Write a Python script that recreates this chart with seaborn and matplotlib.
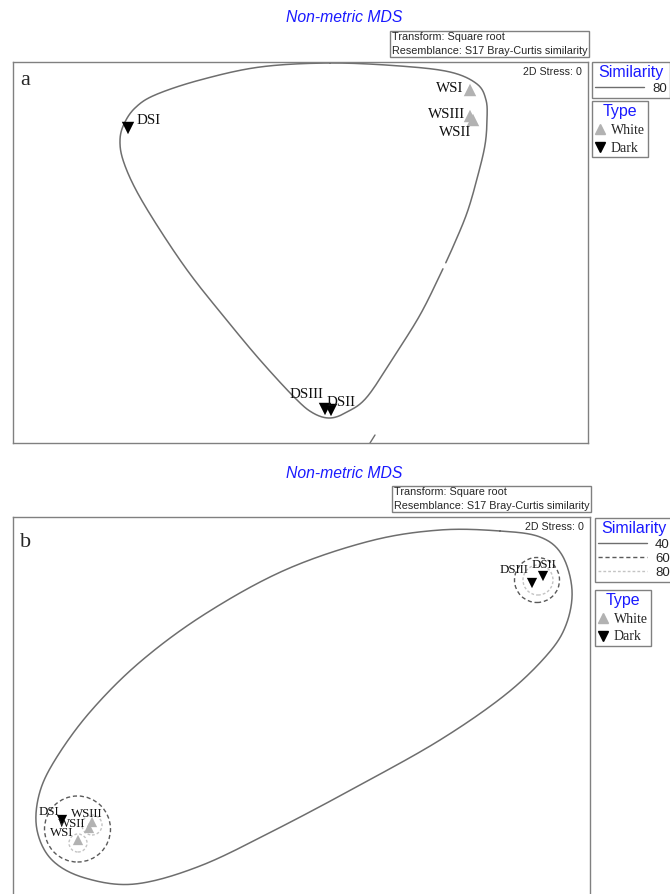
import numpy as np
import pandas as pd
import matplotlib
matplotlib.use("Agg")
import matplotlib.pyplot as plt
import seaborn as sns
from matplotlib.lines import Line2D
from matplotlib.patches import Circle

# ---- data: panel a (MDS scores, arbitrary units) ----
a_samples = ["DSI", "WSI", "WSIII", "WSII", "DSIII", "DSII"]
a_type = ["Dark", "White", "White", "White", "Dark", "Dark"]
a_x = [-0.86, 0.85, 0.85, 0.865, 0.125, 0.155]
a_y = [0.62, 0.81, 0.68, 0.66, -0.785, -0.79]

# 80% similarity contour, panel a
a_c80_x = [0.15, 0.50, 0.75, 0.885, 0.93, 0.935, 0.925, 0.89, 0.84, 0.78, 0.70, 0.60,
           0.475, 0.335, 0.235, 0.15, 0.065, -0.025, -0.20, -0.375, -0.55, -0.70,
           -0.82, -0.885, -0.90, -0.88, -0.825, -0.725, -0.50, -0.20]
a_c80_y = [0.945, 0.93, 0.90, 0.84, 0.76, 0.66, 0.535, 0.385, 0.21, 0.06, -0.115, -0.315,
           -0.515, -0.725, -0.80, -0.83, -0.805, -0.73, -0.54, -0.33, -0.11, 0.11,
           0.31, 0.46, 0.56, 0.64, 0.72, 0.785, 0.86, 0.925]
a_c80_gap = (0.735, -0.075)
a_frag_x = [0.35, 0.375]
a_frag_y = [-0.955, -0.915]

# ---- data: panel b ----
b_samples = ["DSII", "DSIII", "DSI", "WSIII", "WSII", "WSI"]
b_type = ["Dark", "Dark", "Dark", "White", "White", "White"]
b_x = [1.215, 1.16, -1.19, -1.04, -1.055, -1.11]
b_y = [0.645, 0.61, -0.575, -0.585, -0.615, -0.675]

# 40% similarity contour, panel b
b_c40_x = [1.00, 1.20, 1.31, 1.36, 1.33, 1.235, 1.025, 0.70, 0.30, -0.125, -0.50,
           -0.825, -1.075, -1.24, -1.315, -1.305, -1.225, -1.05, -0.80, -0.475,
           -0.075, 0.35, 0.70]
b_c40_y = [0.87, 0.84, 0.75, 0.575, 0.40, 0.25, 0.05, -0.175, -0.40, -0.625, -0.805,
           -0.895, -0.865, -0.775, -0.625, -0.45, -0.275, -0.035, 0.215, 0.455,
           0.675, 0.82, 0.875]
# 60% and 80% contours (circles: centre x, centre y, radius)
b_c60 = [(1.185, 0.625, 0.1125), (-1.1125, -0.62, 0.165)]
b_c80 = [(1.19, 0.625, 0.075), (-1.04, -0.60, 0.05), (-1.11, -0.69, 0.045)]

# label offsets in pixels (dx, dy, ha)
a_offsets = {"DSI": (9, 7, "left"), "WSI": (-7, 2, "right"), "WSIII": (-5, 1, "right"),
             "WSII": (-18, -12, "center"), "DSIII": (-2, 14, "right"), "DSII": (-4, 8, "left")}
b_offsets = {"DSII": (1, 11, "center"), "DSIII": (-4, 13, "right"), "DSI": (-3, 8, "right"),
             "WSIII": (-5, 8, "center"), "WSII": (-4, 4, "right"), "WSI": (-5, 7, "right")}

GREY_LINE = "#6e6e6e"
WHITE_COL = "#b2b2b2"
SERIF = "Liberation Serif"
SANS = "Liberation Sans"


# Closed Catmull-Rom curve through the contour vertices
def smooth_closed(xs, ys, n=24):
    p = np.column_stack([xs, ys])
    m = len(p)
    t = np.linspace(0, 1, n, endpoint=False)[:, None]
    segs = []
    for i in range(m):
        p0, p1, p2, p3 = p[(i - 1) % m], p[i], p[(i + 1) % m], p[(i + 2) % m]
        segs.append(0.5 * (2 * p1 + (-p0 + p2) * t + (2 * p0 - 5 * p1 + 4 * p2 - p3) * t ** 2
                           + (-p0 + 3 * p1 - 3 * p2 + p3) * t ** 3))
    segs.append(p[:1])
    return np.vstack(segs)


def draw_points(ax, xs, ys, names, types, offsets, size, fontsize):
    df = pd.DataFrame({"x": xs, "y": ys, "Sample": names, "Type": types})
    sns.scatterplot(data=df, x="x", y="y", hue="Type", style="Type",
                    palette={"White": WHITE_COL, "Dark": "black"},
                    markers={"White": "^", "Dark": "v"}, s=size, linewidth=0,
                    legend=False, ax=ax, zorder=4)
    for _, r in df.iterrows():
        dx, dy, ha = offsets[r["Sample"]]
        ax.annotate(r["Sample"], (r["x"], r["y"]), xytext=(dx, dy), textcoords="offset pixels",
                    ha=ha, va="center", fontsize=fontsize, family=SERIF, color="#111111", zorder=5)


def style_axes(ax, letter, letter_y):
    ax.set_xticks([])
    ax.set_yticks([])
    ax.set_xlabel("")
    ax.set_ylabel("")
    for s in ax.spines.values():
        s.set_color("#808080")
        s.set_linewidth(1.0)
    ax.text(0.989, 0.974, "2D Stress: 0", transform=ax.transAxes, ha="right", va="center",
            fontsize=7.7, family=SANS)
    ax.text(0.012, letter_y, letter, transform=ax.transAxes, ha="left", va="baseline",
            fontsize=16, family=SERIF)


def header(fig, title_y, box_left, box_mid_y):
    fig.text(344 / 670, 1 - title_y / 894, "Non-metric MDS", ha="center", va="center",
             fontsize=11.3, style="italic", color="#1a1aff", family=SANS)
    fig.text(box_left / 670, 1 - box_mid_y / 894,
             "Transform: Square root\nResemblance: S17 Bray-Curtis similarity",
             ha="left", va="center", fontsize=7.8, family=SANS, linespacing=1.45,
             bbox=dict(boxstyle="square,pad=0.15", fc="white", ec="#808080", lw=1.0))


def legends(fig, sim_entries, sim_top, type_top, box_left):
    sim_handles = [Line2D([], [], color=c, lw=lw, ls=ls) for c, lw, ls, _ in sim_entries]
    sim_labels = [lab for _, _, _, lab in sim_entries]
    leg1 = fig.legend(sim_handles, sim_labels, title="Similarity", loc="upper left",
                      bbox_to_anchor=(box_left / 670, 1 - sim_top / 894),
                      frameon=True, fancybox=False, edgecolor="#808080", framealpha=1,
                      prop={"family": SANS, "size": 9.5}, title_fontsize=11.5,
                      handlelength=3.7, handletextpad=0.6, borderpad=0.25,
                      labelspacing=0.15, borderaxespad=0)
    leg1.get_title().set_color("#1a1aff")
    leg1.get_title().set_family(SANS)
    leg1.get_frame().set_linewidth(1.0)

    type_handles = [Line2D([], [], ls="", marker="^", color=WHITE_COL, markersize=7),
                    Line2D([], [], ls="", marker="v", color="black", markersize=7)]
    leg2 = fig.legend(type_handles, ["White", "Dark"], title="Type", loc="upper left",
                      bbox_to_anchor=(box_left / 670, 1 - type_top / 894),
                      frameon=True, fancybox=False, edgecolor="#808080", framealpha=1,
                      prop={"family": SERIF, "size": 10}, title_fontsize=11.5,
                      handlelength=0.8, handletextpad=0.35, borderpad=0.2,
                      labelspacing=0.35, borderaxespad=0)
    leg2.get_title().set_color("#1a1aff")
    leg2.get_title().set_family(SANS)
    leg2.get_frame().set_linewidth(1.0)


def main():
    sns.set_style("white")
    plt.rcParams["font.family"] = [SANS, "DejaVu Sans"]

    fig = plt.figure(figsize=(6.7, 8.94), dpi=100)

    # ---- panel a ----
    ax_a = fig.add_axes([13 / 670, 1 - 443 / 894, 575 / 670, 381 / 894])
    ax_a.set_xlim(-1.435, 1.44)
    ax_a.set_ylim(-0.955, 0.95)
    curve = smooth_closed(a_c80_x, a_c80_y)
    d = np.hypot(curve[:, 0] - a_c80_gap[0], curve[:, 1] - a_c80_gap[1])
    curve[d < 0.02] = np.nan
    ax_a.plot(curve[:, 0], curve[:, 1], color=GREY_LINE, lw=1.1, zorder=2)
    ax_a.plot(a_frag_x, a_frag_y, color=GREY_LINE, lw=1.0, zorder=2)
    draw_points(ax_a, a_x, a_y, a_samples, a_type, a_offsets, size=80, fontsize=10.8)
    style_axes(ax_a, "a", 0.94)
    header(fig, 18, 392, 44)
    legends(fig, [(GREY_LINE, 1.0, "-", "80")], 62, 101, 592)

    # ---- panel b ----
    ax_b = fig.add_axes([13 / 670, 1 - 897 / 894, 577 / 670, 380 / 894])
    ax_b.set_xlim(-1.435, 1.45)
    ax_b.set_ylim(-0.96, 0.94)
    curve = smooth_closed(b_c40_x, b_c40_y)
    ax_b.plot(curve[:, 0], curve[:, 1], color=GREY_LINE, lw=1.1, zorder=2)
    for cx, cy, r in b_c60:
        ax_b.add_patch(Circle((cx, cy), r, fill=False, ec="#5a5a5a", lw=1.0,
                              ls=(0, (3, 2)), zorder=2))
    for cx, cy, r in b_c80:
        ax_b.add_patch(Circle((cx, cy), r, fill=False, ec="#c4c4c4", lw=1.0,
                              ls=(0, (2, 1.5)), zorder=2))
    draw_points(ax_b, b_x, b_y, b_samples, b_type, b_offsets, size=55, fontsize=9.3)
    style_axes(ax_b, "b", 0.921)
    header(fig, 473, 394, 499)
    legends(fig, [(GREY_LINE, 1.0, "-", "40"), ("#5a5a5a", 1.0, (0, (3, 2)), "60"),
                  ("#c4c4c4", 1.0, (0, (2, 1.5)), "80")], 518, 590, 595)

    fig.savefig("out.png", dpi=100, facecolor="white")
    plt.close(fig)


if __name__ == "__main__":
    main()
